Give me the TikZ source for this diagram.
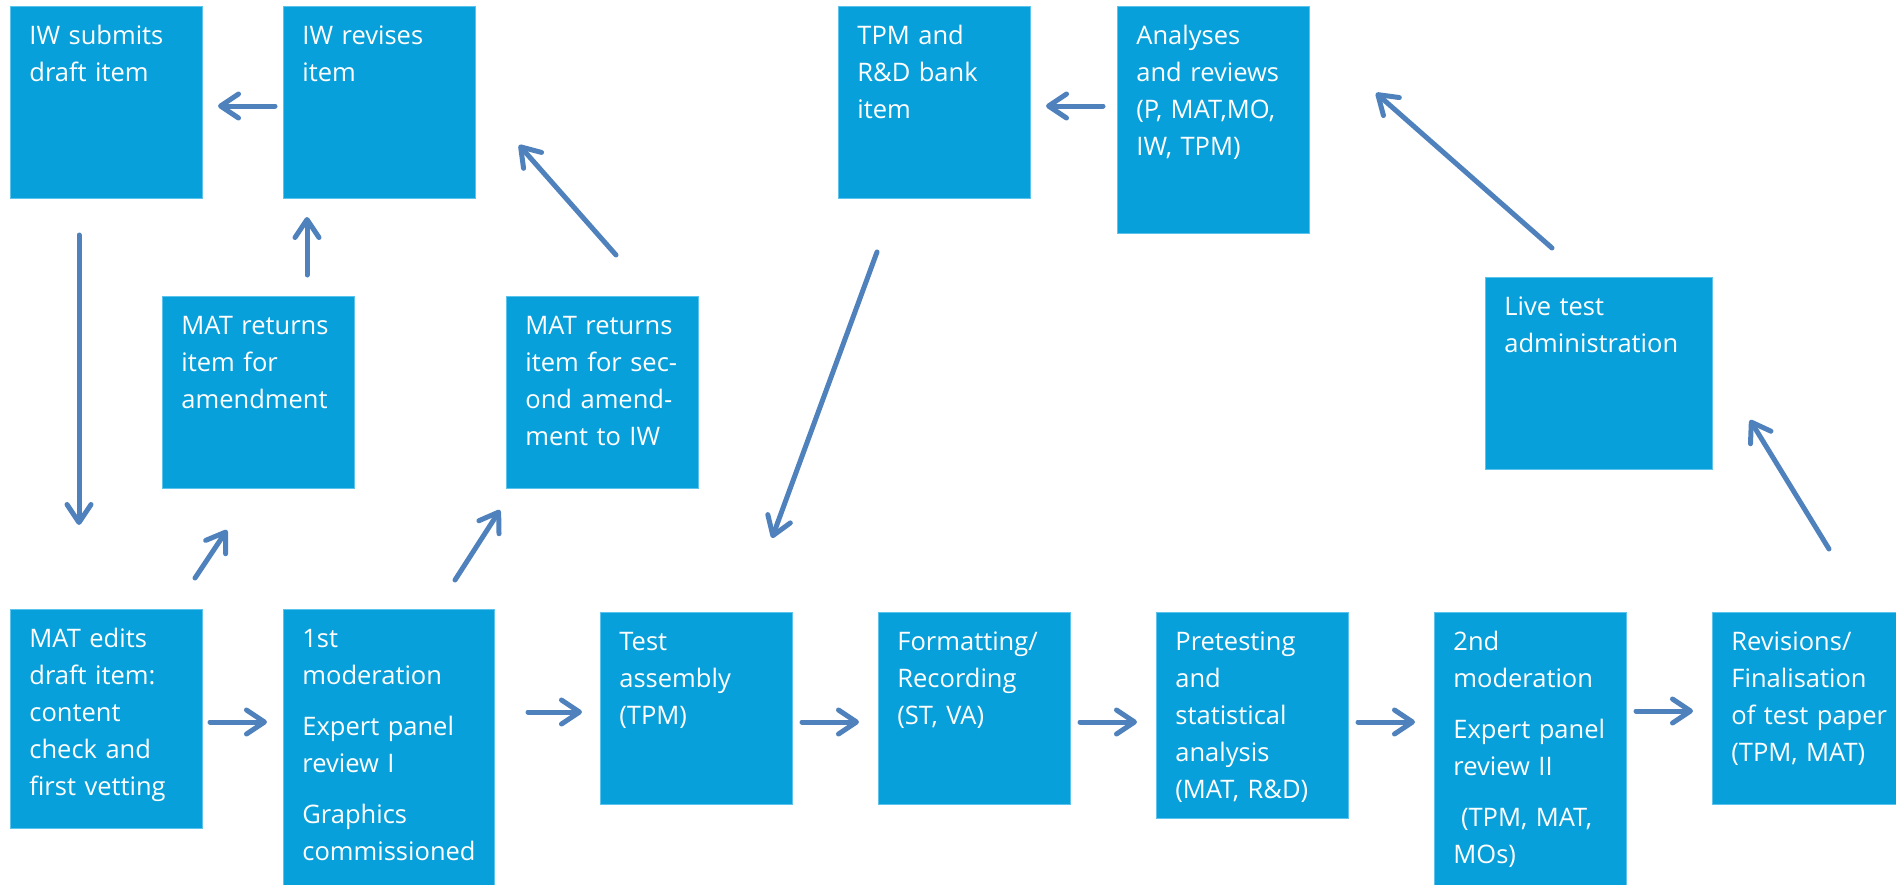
\documentclass[tikz,border=0pt]{standalone}
\usepackage{fontspec}
\setmainfont{Open Sans}
\usepackage{tikz}
\usetikzlibrary{arrows.meta}
\definecolor{boxblue}{HTML}{08A0DA}
\definecolor{boxedge}{HTML}{5CC3EC}
\definecolor{arrowblue}{HTML}{4F81BD}
\hyphenpenalty=10000
\tikzset{
  stage/.style={fill=boxblue, draw=boxedge, line width=0.4pt, text=white,
    anchor=north west, align=left, inner xsep=9.5pt, inner ysep=0pt,
    text height=19pt, font=\fontsize{12.75}{18.5}\selectfont},
  boxsize/.style 2 args={text width=#1, text depth=#2},
  arr/.style={-{Straight Barb[length=9pt,width=12pt,round]}, line width=2.5pt,
    color=arrowblue, line cap=round},
}

\begin{document}
\begin{tikzpicture}[x=0.5pt, y=-0.5pt]
  \useasboundingbox (0,0) rectangle (1896,884);

  % top row
  \node[stage, boxsize={77pt}{77pt}] (iwsub) at (10,6) {IW submits\\draft item};
  \node[stage, boxsize={77pt}{77pt}] (iwrev) at (283,6) {IW revises\\item};
  \node[stage, boxsize={77pt}{77pt}] (bank) at (838,6) {TPM and\\R\&D bank\\item};
  \node[stage, boxsize={77pt}{94.5pt}] (review) at (1117,6) {Analyses\\and reviews\\(P, MAT,MO,\\IW, TPM)};

  % middle row
  \node[stage, boxsize={77pt}{77pt}] (return1) at (162,296) {MAT returns\\item for\\amendment};
  \node[stage, boxsize={77pt}{77pt}] (return2) at (506,296) {MAT returns\\item for sec-\\ond amend-\\ment to IW};
  \node[stage, boxsize={94.5pt}{77pt}] (live) at (1485,277) {Live test\\administration};

  % bottom row
  \node[stage, boxsize={77pt}{90.5pt}] (edit) at (10,609) {MAT edits\\draft item:\\content\\check and\\first vetting};
  \node[stage, boxsize={86.5pt}{121pt}] (mod1) at (283,609) {1st\\moderation\\[7pt]Expert panel\\review I\\[7pt]Graphics\\commissioned};
  \node[stage, boxsize={77pt}{77pt}] (assembly) at (600,612) {Test\\assembly\\(TPM)};
  \node[stage, boxsize={77pt}{77pt}] (format) at (878,612) {Formatting/\\Recording\\(ST, VA)};
  \node[stage, boxsize={77pt}{84pt}] (pretest) at (1156,612) {Pretesting\\and\\statistical\\analysis\\(MAT, R\&D)};
  \node[stage, boxsize={77pt}{121pt}] (mod2) at (1434,612) {2nd\\moderation\\[7pt]Expert panel\\review II\\[7pt]\hspace{0.3em}(TPM, MAT,\\MOs)};
  \node[stage, boxsize={80pt}{77pt}] (final) at (1712,612) {Revisions/\\Finalisation\\of test paper\\(TPM, MAT)};

  % arrow ends
  \coordinate (a1) at (275,106);  \coordinate (b1) at (218,106);
  \coordinate (a2) at (79,235);   \coordinate (b2) at (79,525);
  \coordinate (a3) at (307,275);  \coordinate (b3) at (307,217);
  \coordinate (a4) at (195,578);  \coordinate (b4) at (227,530);
  \coordinate (a5) at (455,580);  \coordinate (b5) at (500,510);
  \coordinate (a6) at (616,255);  \coordinate (b6) at (519,145);
  \coordinate (a7) at (877,252);  \coordinate (b7) at (772,538);
  \coordinate (a8) at (1103,106); \coordinate (b8) at (1046,106);
  \coordinate (a9) at (1552,248); \coordinate (b9) at (1376,93);
  \coordinate (a10) at (1829,549); \coordinate (b10) at (1750,420);
  \coordinate (a11) at (210,722); \coordinate (b11) at (267,722);
  \coordinate (a12) at (528,712); \coordinate (b12) at (582,712);
  \coordinate (a13) at (802,722); \coordinate (b13) at (859,722);
  \coordinate (a14) at (1080,722); \coordinate (b14) at (1137,722);
  \coordinate (a15) at (1358,722); \coordinate (b15) at (1415,722);
  \coordinate (a16) at (1636,711); \coordinate (b16) at (1693,711);

  \foreach \i in {1,...,16}
    \draw[arr] (a\i) -- (b\i);
\end{tikzpicture}
\end{document}
